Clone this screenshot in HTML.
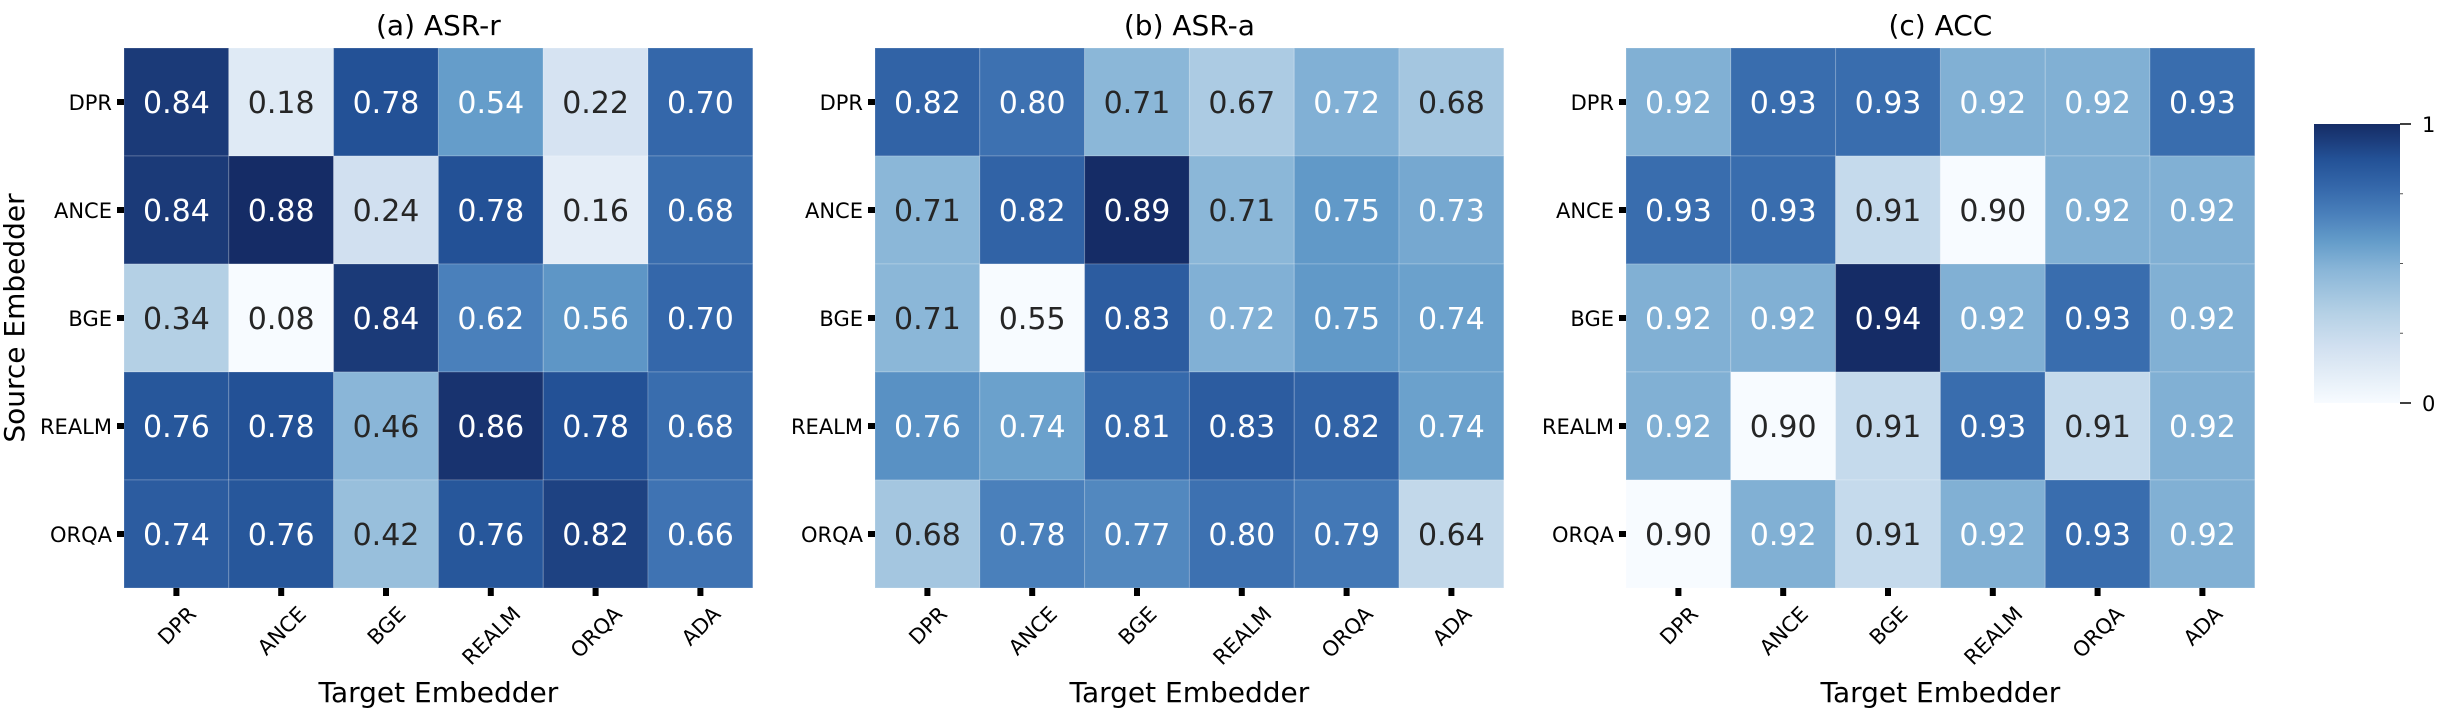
<!DOCTYPE html>
<html><head><meta charset="utf-8"><style>
html,body{margin:0;padding:0;background:#fff;}
svg{display:block;font-family:"DejaVu Sans","Liberation Sans",sans-serif;}
</style></head><body>
<svg id="chart" width="2444" height="714" viewBox="0 0 2444 714" xmlns="http://www.w3.org/2000/svg"></svg>
<script>
const rowLabels = ["DPR","ANCE","BGE","REALM","ORQA"];
const colLabels = ["DPR","ANCE","BGE","REALM","ORQA","ADA"];
const panelTitles = ["(a) ASR-r","(b) ASR-a","(c) ACC"];
const asrR = [[0.84,0.18,0.78,0.54,0.22,0.70],[0.84,0.88,0.24,0.78,0.16,0.68],[0.34,0.08,0.84,0.62,0.56,0.70],[0.76,0.78,0.46,0.86,0.78,0.68],[0.74,0.76,0.42,0.76,0.82,0.66]];
const asrA = [[0.82,0.80,0.71,0.67,0.72,0.68],[0.71,0.82,0.89,0.71,0.75,0.73],[0.71,0.55,0.83,0.72,0.75,0.74],[0.76,0.74,0.81,0.83,0.82,0.74],[0.68,0.78,0.77,0.80,0.79,0.64]];
const acc = [[0.92,0.93,0.93,0.92,0.92,0.93],[0.93,0.93,0.91,0.90,0.92,0.92],[0.92,0.92,0.94,0.92,0.93,0.92],[0.92,0.90,0.91,0.93,0.91,0.92],[0.90,0.92,0.91,0.92,0.93,0.92]];
const cbarTicks = [0,1];
const cbarMinor = [0.25,0.5,0.75];

const NS="http://www.w3.org/2000/svg";
const svg=document.getElementById('chart');
const stopPos=[0,0.125,0.2,0.325,0.475,0.575,0.675,0.775,0.875,0.95,1];
const stopCol=["#f7fbff","#dfeaf5","#d1e0f0","#b4d0e5","#8ab6d8","#659dca","#4a80bb","#3467aa","#235196","#1b3a78","#152c66"];
function hex(h){return [1,3,5].map(i=>parseInt(h.substr(i,2),16));}
function blues(t){t=Math.max(0,Math.min(1,t));let i=0;while(i<stopPos.length-2&&t>stopPos[i+1])i++;const f=(t-stopPos[i])/(stopPos[i+1]-stopPos[i]);const a=hex(stopCol[i]),b=hex(stopCol[i+1]);return a.map((v,k)=>Math.round(v+(b[k]-v)*f));}
function lum(c){const l=c.map(v=>{v/=255;return v<=0.03928?v/12.92:Math.pow((v+0.055)/1.055,2.4);});return 0.2126*l[0]+0.7152*l[1]+0.0722*l[2];}
function mk(tag,attrs,parent){const e=document.createElementNS(NS,tag);for(const k in attrs)e.setAttribute(k,attrs[k]);(parent||svg).appendChild(e);return e;}

const panelLeft=[124,875,1626];
const top0=48, cellH=108, cellW=104.8;
const datasets=[asrR,asrA,acc];
function xScale(p,j){return panelLeft[p]+j*cellW;}
function yScale(i){return top0+i*cellH;}

datasets.forEach((data,p)=>{
  const g=mk('g',{});
  
  
  const flat=data.flat();const mn=Math.min(...flat),mx=Math.max(...flat);
  data.forEach((row,i)=>row.forEach((v,j)=>{
    const c=blues((v-mn)/(mx-mn));
    const r=mk('rect',{x:xScale(p,j),y:yScale(i),width:cellW,height:cellH,fill:'rgb('+c.join(',')+')',stroke:'rgba(255,255,255,0.2)','stroke-width':1},g);
    
    
    const t=mk('text',{x:xScale(p,j)+cellW/2,y:yScale(i)+cellH/2+11,'text-anchor':'middle','font-size':30,fill:lum(c)>0.408?'#262626':'#ffffff'},g);
    t.textContent=v.toFixed(2);
    
    
  }));
  const L=panelLeft[p];
  const tt=mk('text',{x:L+3*cellW,y:35,'text-anchor':'middle','font-size':28,fill:'#000'},g);
  tt.textContent=panelTitles[p];
  
  
  rowLabels.forEach((lab,i)=>{
    const yc=yScale(i)+cellH/2;
    const tk=mk('rect',{x:L-7,y:yc-3,width:7,height:6,fill:'#000'},g);
    
    
    const tl=mk('text',{x:L-12,y:yc+8,'text-anchor':'end','font-size':21,fill:'#000'},g);
    tl.textContent=lab;
    
    
  });
  const yb=yScale(5);
  colLabels.forEach((lab,j)=>{
    const xc=xScale(p,j)+cellW/2;
    const tk=mk('rect',{x:xc-3,y:yb,width:6,height:8,fill:'#000'},g);
    
    
    const tl=mk('text',{x:0,y:0,'text-anchor':'middle','font-size':21,fill:'#000'},g);
    tl.textContent=lab;
    
    
    const len=tl.getComputedTextLength();
    const cy=yb+16+(len+16)*0.707/2;
    tl.setAttribute('transform','translate('+xc+','+cy+') rotate(-45) translate(0,8)');
  });
  const xt=mk('text',{x:L+3*cellW,y:702,'text-anchor':'middle','font-size':28,fill:'#000'},g);
  xt.textContent='Target Embedder';
  
  
});
const yt=mk('text',{x:0,y:0,'text-anchor':'middle','font-size':28,fill:'#000',transform:'translate(24,318) rotate(-90)'});
yt.textContent='Source Embedder';



const defs=mk('defs',{});
const grad=mk('linearGradient',{id:'cb',x1:0,y1:1,x2:0,y2:0},defs);
stopPos.forEach((s,i)=>mk('stop',{offset:s,'stop-color':stopCol[i]},grad));
const cbTop=124,cbBot=403,cbL=2314,cbR=2400;
const cb=mk('rect',{x:cbL,y:cbTop,width:cbR-cbL,height:cbBot-cbTop,fill:'url(#cb)'});


function cbY(v){return cbBot-(cbBot-cbTop)*v;}
cbarTicks.forEach(v=>{
  const l=mk('line',{x1:cbR,x2:cbR+11,y1:cbY(v),y2:cbY(v),stroke:'#000','stroke-width':1.5});
  
  
  const t=mk('text',{x:cbR+22,y:cbY(v)+8,'font-size':21,fill:'#000'});
  t.textContent=String(v);
  
  
});
cbarMinor.forEach(v=>{
  const l=mk('line',{x1:cbR,x2:cbR+3,y1:cbY(v),y2:cbY(v),stroke:'#555','stroke-width':1});
  
  
});
</script>
</body></html>
